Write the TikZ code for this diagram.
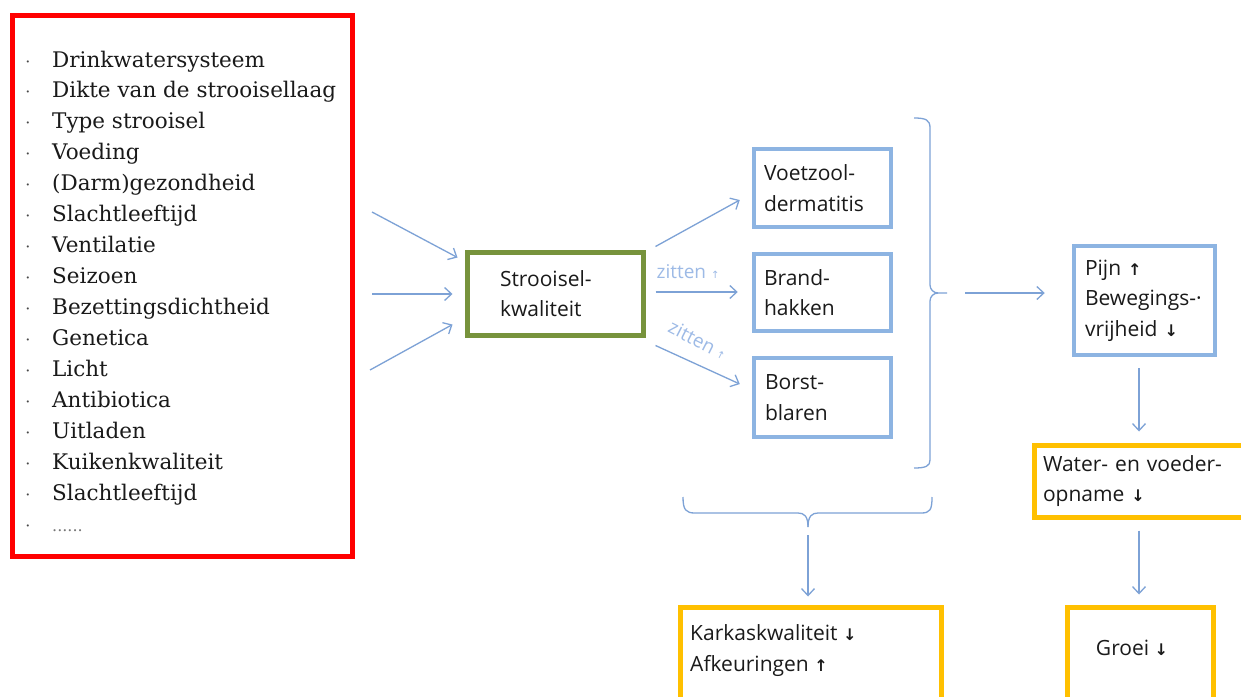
\documentclass[tikz,border=0pt]{standalone}
\usepackage{fontspec}
\usetikzlibrary{arrows.meta,calc}
\newfontfamily\serf{DejaVu Serif}
\newfontfamily\sanf{Open Sans}
\newfontfamily\arw{DejaVu Sans}
\definecolor{redb}{HTML}{FF0000}
\definecolor{greenb}{HTML}{77933C}
\definecolor{blueb}{HTML}{8DB4E2}
\definecolor{orangeb}{HTML}{FFC000}
\definecolor{arrc}{HTML}{7DA2D6}
\definecolor{lbl}{HTML}{9DBAE6}
\definecolor{txt}{HTML}{1A1A1A}
\newcommand\uparr{{\arw\bfseries\fontsize{16}{16}\selectfont ↑}}
\newcommand\dnarr{{\arw\bfseries\fontsize{16}{16}\selectfont ↓}}
\newcommand\lblarr{{\arw\fontsize{10}{10}\selectfont ↑}}
\begin{document}
\begin{tikzpicture}[x=1pt,y=-1pt,
  box/.style={draw, rectangle, inner ysep=0pt, text=txt, align=left,
    font=\sanf\fontsize{21}{30.5}\selectfont},
  bluebox/.style={box, draw=blueb, line width=4.5pt},
  orbox/.style={box, draw=orangeb, line width=5pt},
  txtnode/.style={text=txt, align=left, inner sep=0pt,
    font=\sanf\fontsize{21}{30.5}\selectfont},
  item/.style={text=txt, inner sep=0pt, font=\serf\fontsize{21.5}{30.9}\selectfont},
  bul/.style={text=txt!80, inner sep=0pt, font=\serf\fontsize{16}{16}\selectfont},
  lab/.style={text=lbl, inner sep=0pt, font=\sanf\fontsize{19}{19}\selectfont},
  arr/.style={draw=arrc, line width=1.3pt, -{Straight Barb[length=7pt,width=13pt]}},
  brk/.style={draw=arrc, line width=1.3pt},
]
\useasboundingbox (0,0) rectangle (1241,696);
\clip (0,0) rectangle (1241,696);
\fill[white] (0,0) rectangle (1241,696);

% list box
\node[draw=redb, line width=5pt, minimum width=340pt, minimum height=541pt, inner sep=0pt] (list) at (182.5,286) {};
\foreach \t [count=\i from 0] in {Drinkwatersysteem, Dikte van de strooisellaag, Type strooisel, Voeding, {(Darm)gezondheid}, Slachtleeftijd, Ventilatie, Seizoen, Bezettingsdichtheid, Genetica, Licht, Antibiotica, Uitladen, Kuikenkwaliteit, Slachtleeftijd} {
  \node[item, anchor=base west] (it\i) at (52,67+30.93*\i) {\t};
  \node[bul, anchor=base] (bu\i) at (28,67+30.93*\i) {·};
}
\node[item, anchor=base west, text=txt!60, font=\serf\fontsize{16}{16}\selectfont] (itend) at (52,531) {......};
\node[bul, anchor=base] (buend) at (28,531) {·};

% central box
\node[box, draw=greenb, line width=5pt, minimum width=176pt, minimum height=83pt,
  inner xsep=33pt, text width=110pt] (str) at (555,293.5) {Strooisel-\\kwaliteit};

% blue boxes
\node[bluebox, minimum width=137pt, minimum height=78pt, inner xsep=10pt, text width=117pt] (voet) at (822.5,188) {Voetzool-\\dermatitis};
\node[bluebox, minimum width=137pt, minimum height=77pt, inner xsep=10pt, text width=117pt] (brand) at (822.5,292.5) {Brand-\\hakken};
\node[bluebox, minimum width=137pt, minimum height=79pt, inner xsep=11pt, text width=115pt] (borst) at (822.5,397.5) {Borst-\\blaren};
\node[bluebox, minimum width=141pt, minimum height=109pt, inner xsep=11pt, text width=119pt] (pijn) at (1144.5,300.5) {Pijn \uparr\\Bewegings-·\\vrijheid \dnarr};

% orange boxes
\node[orbox, minimum width=216pt, minimum height=72pt, inner xsep=9pt, text width=198pt] (water) at (1142,481) {Water- en voeder-\\opname \dnarr};
\node[orbox, minimum width=146pt, minimum height=113pt, inner sep=0pt] (groei) at (1140,663.5) {};
\node[txtnode] (groeit) at (1132,648) {Groei \dnarr};
\node[orbox, minimum width=261pt, minimum height=113pt, inner sep=0pt] (karkas) at (810.5,663.5) {};
\node[txtnode, anchor=west] (karkast) at (690,650.5) {Karkaskwaliteit \dnarr\\Afkeuringen \uparr};

% input arrows
\draw[arr] ($(list.east)+(17,-74)$) -- ($(str.north west)+(-7,8)$);
\draw[arr] ($(list.east)+(17,8)$) -- ($(str.west)+(-12,0.5)$);
\draw[arr] ($(list.east)+(15,84)$) -- ($(str.south west)+(-12,-13)$);

% output arrows
\draw[arr] ($(str.north east)+(10,-3)$) -- ($(voet.west)+(-12,12)$);
\draw[arr] ($(str.east)+(10,-1.5)$) -- ($(brand.west)+(-14,-0.5)$);
\draw[arr] ($(str.south east)+(10,8)$) -- ($(borst.west)+(-12,-13.5)$);
\node[lab] (z1) at (688,272) {zitten \lblarr};
\node[lab, rotate=-27] (z2) at (698,340) {zitten \lblarr};

% right brace
\coordinate (rtip) at (947,293);
\draw[brk] (914,118) .. controls (926,118) and (930,120) .. (930,128) -- (930,285)
  to[out=-90,in=180] (938,293) -- (rtip);
\draw[brk] (938,293) to[out=180,in=90] (930,301) -- (930,460)
  .. controls (930,466) and (926,468) .. (914,468);
\draw[arr] ($(rtip)+(18,0)$) -- ($(pijn.west)+(-27,-7.5)$);

% bottom brace
\coordinate (btip) at (808,527);
\draw[brk] (683,497) .. controls (683,510) and (686,513) .. (695,513) -- (798,513)
  .. controls (804,513) and (808,516) .. (btip);
\draw[brk] (btip) .. controls (808,516) and (812,513) .. (818,513) -- (921,513)
  .. controls (930,513) and (932,510) .. (932,497);
\draw[arr] ($(btip)+(0,8)$) -- ($(karkas.north)+(-2.5,-8)$);

% vertical arrows on the right
\draw[arr] ($(pijn.south)+(-5.5,11)$) -- ($(water.north)+(-3,-11)$);
\draw[arr] ($(water.south)+(-3,11)$) -- ($(groei.north)+(-1,-10)$);
\end{tikzpicture}
\end{document}
